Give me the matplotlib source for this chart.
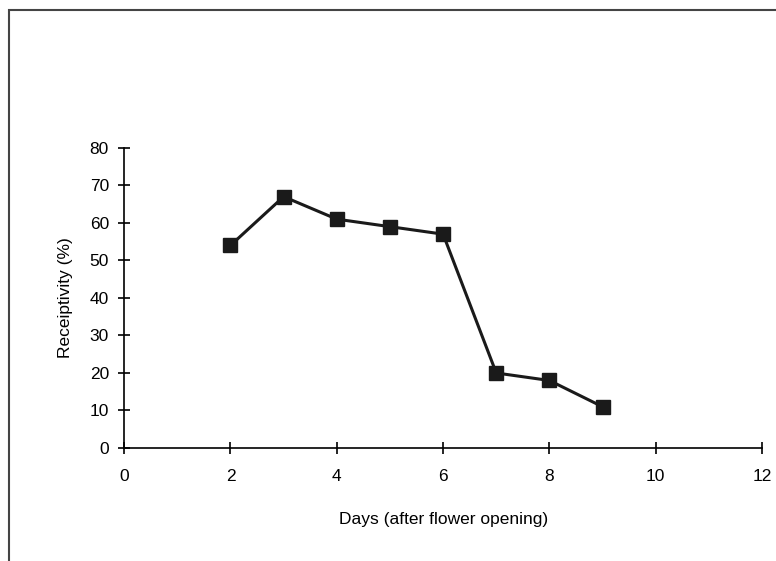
import matplotlib.pyplot as plt
from matplotlib.patches import Rectangle

plt.rcParams['font.family'] = ['Liberation Sans', 'DejaVu Sans']

days = [2, 3, 4, 5, 6, 7, 8, 9]
receptivity = [54, 67, 61, 59, 57, 20, 18, 11]
x_ticks = [0, 2, 4, 6, 8, 10, 12]
y_ticks = [0, 10, 20, 30, 40, 50, 60, 70, 80]

fig = plt.figure(figsize=(7.76, 5.61), dpi=100)
ax = fig.add_axes([0.160, 0.2014, 0.822, 0.535])

ax.plot(days, receptivity, color='#1a1a1a', lw=2.2, marker='s',
        markersize=10, markerfacecolor='#1a1a1a', markeredgecolor='#1a1a1a')

ax.set_xlim(0, 12)
ax.set_ylim(0, 80)
ax.set_xticks(x_ticks)
ax.set_yticks(y_ticks)
ax.tick_params(direction='inout', length=8, width=1.2, labelsize=12.5)
ax.tick_params(axis='x', pad=11)
ax.tick_params(axis='y', pad=7)
for s in ['top', 'right']:
    ax.spines[s].set_visible(False)
for s in ['left', 'bottom']:
    ax.spines[s].set_linewidth(1.2)
    ax.spines[s].set_clip_on(False)

ax.set_xlabel('Days (after flower opening)', fontsize=12.5, labelpad=20)
ax.set_ylabel('Receiptivity (%)', fontsize=12.5, labelpad=12)

# frame around the figure (only left/top edges visible in the crop)
fig.add_artist(Rectangle((0.0116, -0.1), 1.2, 1.082, transform=fig.transFigure,
                         fill=False, edgecolor='#444444', lw=1.5))

fig.savefig('out.png', dpi=100)
